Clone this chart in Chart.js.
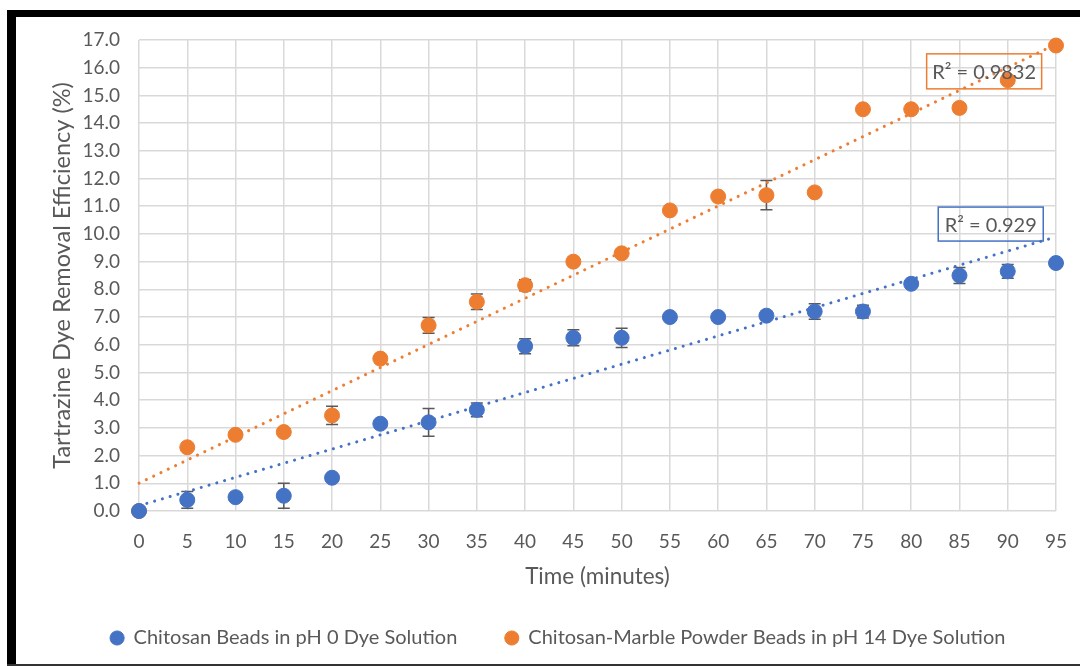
<!DOCTYPE html>
<html>
<head>
<meta charset="utf-8">
<script src="https://cdn.jsdelivr.net/npm/chart.js@4.4.1/dist/chart.umd.min.js"></script>
<style>
  html, body { margin: 0; padding: 0; background: #fff; }
  body { width: 1080px; height: 666px; position: relative; overflow: hidden; }
  .frame-top { position: absolute; left: 7px; top: 10px; width: 1073px; height: 7px; background: #000; }
  .frame-left { position: absolute; left: 7px; top: 10px; width: 9px; height: 656px; background: #000; }
  .frame-bottom { position: absolute; left: 7px; top: 664px; width: 1073px; height: 2px; background: #333; }
  #wrap { position: absolute; left: 16px; top: 17px; width: 1064px; height: 647px; }
</style>
</head>
<body>
<div class="frame-top"></div>
<div class="frame-left"></div>
<div class="frame-bottom"></div>
<div id="wrap"><canvas id="dyeChart"></canvas></div>
<script>
const minutes = [0, 5, 10, 15, 20, 25, 30, 35, 40, 45, 50, 55, 60, 65, 70, 75, 80, 85, 90, 95];
const beadsPh0 = [0, 0.4, 0.5, 0.55, 1.2, 3.15, 3.2, 3.65, 5.95, 6.25, 6.25, 7.0, 7.0, 7.05, 7.2, 7.2, 8.2, 8.5, 8.65, 8.95];
const beadsPh0Err = [0, 0.3, 0, 0.45, 0, 0.12, 0.5, 0.25, 0.27, 0.29, 0.35, 0, 0, 0.1, 0.28, 0.23, 0, 0.29, 0.25, 0];
const marblePh14 = [0, 2.3, 2.75, 2.85, 3.45, 5.5, 6.7, 7.55, 8.15, 9.0, 9.3, 10.85, 11.35, 11.4, 11.5, 14.5, 14.5, 14.55, 15.55, 16.8];
const marblePh14Err = [0, 0, 0, 0, 0.33, 0, 0.28, 0.28, 0.2, 0, 0, 0, 0, 0.53, 0, 0, 0, 0.1, 0.15, 0];
const seriesNames = ["Chitosan Beads in pH 0 Dye Solution", "Chitosan-Marble Powder Beads in pH 14 Dye Solution"];
const r2Labels = ["R\u00B2 = 0.929", "R\u00B2 = 0.9832"];

const BLUE = "#4472C4";
const ORANGE = "#ED7D31";
const TEXT = "#595959";
const FONT = "Lato, 'Open Sans', sans-serif";

function toPoints(xs, ys) {
  return xs.map((x, i) => ({ x: x, y: ys[i] }));
}

// least squares line, same as the excel linear trendline
function trendLine(xs, ys) {
  const n = xs.length;
  const mx = xs.reduce((a, b) => a + b, 0) / n;
  const my = ys.reduce((a, b) => a + b, 0) / n;
  let sxy = 0, sxx = 0;
  for (let i = 0; i < n; i++) {
    sxy += (xs[i] - mx) * (ys[i] - my);
    sxx += (xs[i] - mx) * (xs[i] - mx);
  }
  const slope = sxy / sxx;
  const icpt = my - slope * mx;
  const x0 = xs[0], x1 = xs[n - 1];
  return [{ x: x0, y: icpt + slope * x0 }, { x: x1, y: icpt + slope * x1 }];
}

const errorBars = {
  id: "errorBars",
  beforeDatasetsDraw(chart) {
    const { ctx, scales: { x, y } } = chart;
    const sets = [[beadsPh0, beadsPh0Err], [marblePh14, marblePh14Err]];
    ctx.save();
    ctx.strokeStyle = TEXT;
    ctx.lineWidth = 1.5;
    sets.forEach(([vals, errs]) => {
      vals.forEach((v, i) => {
        if (!errs[i]) return;
        const px = x.getPixelForValue(minutes[i]);
        const top = y.getPixelForValue(v + errs[i]);
        const bot = y.getPixelForValue(v - errs[i]);
        ctx.beginPath();
        ctx.moveTo(px, top); ctx.lineTo(px, bot);
        ctx.moveTo(px - 6, top); ctx.lineTo(px + 6, top);
        ctx.moveTo(px - 6, bot); ctx.lineTo(px + 6, bot);
        ctx.stroke();
      });
    });
    ctx.restore();
  }
};

const r2Boxes = {
  id: "r2Boxes",
  afterDatasetsDraw(chart) {
    const { ctx, scales: { x, y } } = chart;
    const boxes = [
      { text: r2Labels[0], color: BLUE, x: 82.8, y: 10.97, w: 105, h: 34 },
      { text: r2Labels[1], color: ORANGE, x: 81.6, y: 16.5, w: 115, h: 35 }
    ];
    ctx.save();
    ctx.font = "20px " + FONT;
    ctx.textBaseline = "middle";
    ctx.textAlign = "center";
    boxes.forEach(b => {
      const left = x.getPixelForValue(b.x);
      const top = y.getPixelForValue(b.y);
      ctx.strokeStyle = b.color;
      ctx.lineWidth = 1.5;
      ctx.strokeRect(left, top, b.w, b.h);
      ctx.fillStyle = TEXT;
      ctx.fillText(b.text, left + b.w / 2, top + b.h / 2 + 1);
    });
    ctx.restore();
  }
};

const ctx = document.getElementById("dyeChart").getContext("2d");
const dyeChart = new Chart(ctx, {
  type: "scatter",
  data: {
    datasets: [
      {
        label: seriesNames[0],
        data: toPoints(minutes, beadsPh0),
        backgroundColor: BLUE,
        borderColor: BLUE,
        pointRadius: 7.5,
        pointHoverRadius: 7.5,
        clip: false,
        order: 1
      },
      {
        label: seriesNames[1],
        data: toPoints(minutes, marblePh14),
        backgroundColor: ORANGE,
        borderColor: ORANGE,
        pointRadius: 7.5,
        pointHoverRadius: 7.5,
        clip: false,
        order: 2
      },
      {
        label: "trend0",
        data: trendLine(minutes, beadsPh0),
        showLine: true,
        borderColor: BLUE,
        borderWidth: 3,
        borderDash: [0.1, 8],
        borderCapStyle: "round",
        pointRadius: 0,
        clip: false,
        order: 0
      },
      {
        label: "trend1",
        data: trendLine(minutes, marblePh14),
        showLine: true,
        borderColor: ORANGE,
        borderWidth: 3,
        borderDash: [0.1, 8],
        borderCapStyle: "round",
        pointRadius: 0,
        clip: false,
        order: 0
      }
    ]
  },
  options: {
    responsive: true,
    maintainAspectRatio: false,
    animation: false,
    layout: { autoPadding: false, padding: { top: 23, right: 24, left: 44, bottom: 6 } },
    plugins: {
      legend: {
        position: "bottom",
        labels: {
          filter: item => item.datasetIndex < 2,
          usePointStyle: true,
          pointStyle: "circle",
          boxHeight: 10,
          boxWidth: 13,
          padding: 48,
          color: TEXT,
          font: { family: FONT, size: 20 }
        }
      },
      tooltip: { enabled: false }
    },
    scales: {
      x: {
        type: "linear",
        min: 0,
        max: 95,
        afterFit: s => { s.height = 69; },
        grid: { color: "#d9d9d9", lineWidth: 1.5, drawTicks: true, tickLength: 19, tickColor: "rgba(0,0,0,0)" },
        border: { display: false },
        ticks: {
          stepSize: 5,
          padding: 0,
          color: TEXT,
          font: { family: FONT, size: 19 }
        },
        title: {
          display: true,
          text: "Time (minutes)",
          color: TEXT,
          font: { family: FONT, size: 22.5 },
          padding: { bottom: -10 }
        }
      },
      y: {
        min: 0,
        max: 17,
        afterFit: s => { s.width = 79; },
        grid: { color: "#d9d9d9", lineWidth: 1.5, drawTicks: true, tickLength: 19, tickColor: "rgba(0,0,0,0)" },
        border: { display: false },
        ticks: {
          stepSize: 1,
          padding: 0,
          color: TEXT,
          font: { family: FONT, size: 19 },
          callback: v => Number(v).toFixed(1)
        },
        title: {
          display: true,
          text: "Tartrazine Dye Removal Efficiency (%)",
          color: TEXT,
          font: { family: FONT, size: 23.5 },
          padding: { top: -12.1 }
        }
      }
    }
  },
  plugins: [errorBars, r2Boxes]
});
</script>
</body>
</html>
